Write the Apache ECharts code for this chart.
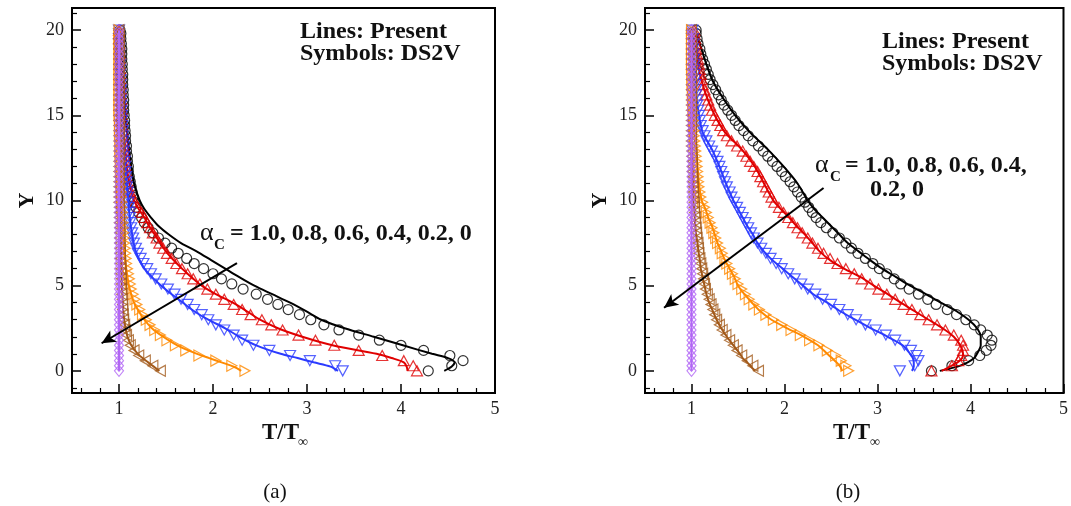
<!DOCTYPE html>
<html><head><meta charset="utf-8">
<script src="https://cdn.jsdelivr.net/npm/echarts@6/dist/echarts.min.js"></script>
<style>html,body{margin:0;padding:0;background:#fff}#c{width:1071px;height:506px}</style>
</head><body><div id="c"></div>
<script>
// ---------- DATA ----------
// Y positions of DS2V symbols (shared)
const symY = [0,0.3,0.6,0.9,1.2,1.5,1.8,2.1,2.4,2.7,3,3.3,3.6,3.9,4.2,4.5,4.8,5.1,5.4,5.7,6,6.3,6.6,6.9,7.2,7.5,7.8,8.1,8.4,8.7,9,9.3,9.6,9.9,10.2,10.5,10.8,11.1,11.4,11.7,12,12.3,12.6,12.9,13.2,13.5,13.8,14.1,14.4,14.7,15,15.3,15.6,15.9,16.2,16.5,16.8,17.1,17.4,17.7,18,18.3,18.6,18.9,19.2,19.5,19.8,20];
// Y positions of present-method lines (shared)
const lineY = [0,0.25,0.5,0.75,1,1.5,2,2.5,3,3.5,4,4.5,5,5.5,6,6.5,7,7.5,8,8.5,9,9.5,10,11,12,13,14,15,16,17,18,19,20];

const alphaLabels = ['1.0','0.8','0.6','0.4','0.2','0'];

// Panel (a): lines (T/Tinf at lineY)
const aLine10 = [4.46,4.54,4.57,4.50,4.33,4.02,3.71,3.40,3.15,2.99,2.82,2.63,2.44,2.28,2.13,1.98,1.83,1.66,1.53,1.42,1.34,1.27,1.22,1.16,1.13,1.105,1.085,1.07,1.055,1.045,1.035,1.025,1.015];
const aLine08 = [4.07,4.06,4.03,3.90,3.74,3.27,2.95,2.69,2.50,2.36,2.21,2.03,1.88,1.77,1.67,1.58,1.50,1.44,1.38,1.32,1.27,1.21,1.16,1.11,1.08,1.065,1.05,1.04,1.03,1.025,1.02,1.01,1.005];
const aLine06 = [3.33,3.25,3.07,2.90,2.72,2.46,2.28,2.13,1.95,1.80,1.68,1.56,1.45,1.35,1.27,1.22,1.18,1.155,1.14,1.125,1.115,1.105,1.10,1.08,1.065,1.05,1.04,1.03,1.025,1.02,1.015,1.01,1.005];
const aLine04 = [2.30,2.22,2.09,1.96,1.83,1.62,1.47,1.35,1.27,1.21,1.16,1.13,1.105,1.09,1.077,1.065,1.055,1.048,1.042,1.037,1.033,1.03,1.027,1.022,1.018,1.015,1.012,1.01,1.008,1.006,1.004,1.002,1.0];
const aLine02 = [1.43,1.37,1.31,1.25,1.20,1.13,1.09,1.07,1.055,1.045,1.04,1.035,1.03,1.027,1.024,1.022,1.02,1.018,1.016,1.014,1.012,1.011,1.01,1.008,1.006,1.005,1.004,1.003,1.002,1.001,1.0,1.0,1.0];
const aLine00 = [1,1,1,1,1,1,1,1,1,1,1,1,1,1,1,1,1,1,1,1,1,1,1,1,1,1,1,1,1,1,1,1,1];

// Panel (a): DS2V symbols (T/Tinf at symY)
const aSym10 = [4.29,4.54,4.66,4.52,4.24,4.00,3.77,3.55,3.34,3.18, 3.04,2.92,2.80,2.69,2.58,2.46,2.32,2.20,2.09,2.00, 1.90,1.80,1.72,1.63,1.56,1.49,1.42,1.36,1.31,1.27, 1.24,1.21,1.18,1.16,1.15,1.14,1.13,1.12,1.11,1.10, 1.10,1.09,1.09,1.08,1.08,1.07,1.07,1.065,1.06,1.06, 1.055,1.05,1.05,1.05,1.045,1.045,1.04,1.04,1.04,1.035, 1.035,1.03,1.03,1.03,1.025,1.02,1.02,1.01];
const aSym08 = [4.17,4.13,4.03,3.80,3.55,3.29,3.09,2.91,2.74,2.62, 2.52,2.40,2.31,2.22,2.12,2.03,1.94,1.86,1.79,1.73, 1.67,1.61,1.56,1.51,1.47,1.43,1.40,1.36,1.33,1.30, 1.27,1.24,1.20,1.17,1.14,1.12,1.10,1.09,1.08,1.075, 1.07,1.065,1.06,1.055,1.05,1.045,1.04,1.04,1.035,1.035, 1.03,1.03,1.025,1.025,1.02,1.02,1.02,1.015,1.015,1.015, 1.01,1.01,1.01,1.005,1.005,1.0,1.0,1.0];
const aSym06 = [3.38,3.30,3.03,2.82,2.60,2.43,2.31,2.22,2.12,2.03, 1.95,1.88,1.80,1.73,1.66,1.59,1.52,1.45,1.39,1.34, 1.30,1.26,1.23,1.20,1.18,1.16,1.15,1.14,1.13,1.12, 1.115,1.11,1.105,1.10,1.095,1.09,1.085,1.08,1.075,1.07, 1.065,1.06,1.055,1.05,1.05,1.045,1.04,1.04,1.035,1.03, 1.03,1.025,1.025,1.02,1.02,1.02,1.015,1.015,1.01,1.01, 1.01,1.005,1.005,1.005,1.0,1.0,1.0,1.0];
const aSym04 = [2.34,2.20,2.03,1.85,1.71,1.60,1.51,1.44,1.38,1.33, 1.29,1.25,1.22,1.19,1.17,1.15,1.13,1.12,1.11,1.10, 1.09,1.08,1.075,1.07,1.065,1.06,1.055,1.05,1.045,1.04, 1.04,1.035,1.03,1.03,1.025,1.025,1.02,1.02,1.02,1.015, 1.015,1.015,1.01,1.01,1.01,1.01,1.005,1.005,1.005,1.005, 1,1,1,1,1,1,1,1,1,1, 1,1,1,1,1,1,1,1];
const aSym02 = [1.44,1.36,1.28,1.21,1.16,1.12,1.10,1.08,1.065,1.06, 1.05,1.045,1.04,1.04,1.035,1.03,1.03,1.025,1.025,1.02, 1.02,1.02,1.015,1.015,1.015,1.01,1.01,1.01,1.01,1.005, 1.005,1.005,1.005,1,1,1,1,1,1,1, 1,1,1,1,1,1,1,1,1,1, 1,1,1,1,1,1,1,1,1,1, 1,1,1,1,1,1,1,1];
const aSym00 = [1,1,1,1,1,1,1,1,1,1, 1,1,1,1,1,1,1,1,1,1, 1,1,1,1,1,1,1,1,1,1, 1,1,1,1,1,1,1,1,1,1, 1,1,1,1,1,1,1,1,1,1, 1,1,1,1,1,1,1,1,1,1, 1,1,1,1,1,1,1,1];

// Panel (b): lines
const bLine10 = [3.67,3.86,3.97,4.04,4.07,4.11,4.11,4.07,3.98,3.85,3.68,3.52,3.35,3.20,3.05,2.92,2.80,2.68,2.59,2.50,2.41,2.32,2.25,2.14,1.99,1.82,1.63,1.47,1.34,1.23,1.16,1.10,1.04];
const bLine08 = [3.69,3.78,3.86,3.91,3.92,3.89,3.82,3.70,3.55,3.40,3.25,3.11,2.96,2.82,2.64,2.49,2.38,2.30,2.22,2.13,2.05,1.96,1.88,1.78,1.68,1.54,1.36,1.25,1.17,1.11,1.07,1.05,1.03];
const bLine06 = [3.37,3.39,3.39,3.38,3.35,3.27,3.11,2.93,2.76,2.60,2.46,2.31,2.20,2.09,1.98,1.87,1.78,1.71,1.66,1.60,1.55,1.50,1.45,1.37,1.30,1.22,1.12,1.08,1.055,1.04,1.03,1.02,1.015];
const bLine04 = [2.62,2.60,2.56,2.51,2.46,2.36,2.21,2.03,1.86,1.74,1.65,1.57,1.50,1.46,1.41,1.36,1.32,1.28,1.25,1.22,1.18,1.15,1.11,1.08,1.065,1.05,1.03,1.02,1.015,1.01,1.005,1.0,1.0];
const bLine02 = [1.68,1.64,1.60,1.55,1.52,1.45,1.38,1.32,1.27,1.23,1.19,1.16,1.14,1.12,1.10,1.09,1.075,1.065,1.05,1.04,1.035,1.03,1.02,1.015,1.01,1.005,1.0,1.0,1.0,1.0,1.0,1.0,1.0];
const bLine00 = [1,1,1,1,1,1,1,1,1,1,1,1,1,1,1,1,1,1,1,1,1,1,1,1,1,1,1,1,1,1,1,1,1];

// Panel (b): DS2V symbols
const bSym10 = [3.58,3.80,3.98,4.10,4.17,4.22,4.23,4.18,4.11,4.04, 3.95,3.85,3.75,3.63,3.54,3.44,3.34,3.25,3.18,3.10, 3.02,2.95,2.87,2.79,2.72,2.66,2.59,2.52,2.45,2.39, 2.34,2.30,2.26,2.22,2.18,2.14,2.10,2.06,2.01,1.97, 1.92,1.87,1.82,1.77,1.72,1.66,1.61,1.56,1.51,1.47, 1.43,1.39,1.35,1.32,1.29,1.26,1.23,1.20,1.18,1.16, 1.14,1.12,1.10,1.09,1.07,1.06,1.05,1.05];
const bSym08 = [3.58,3.80,3.87,3.90,3.92,3.92,3.90,3.82,3.73,3.64, 3.55,3.46,3.37,3.28,3.19,3.10,3.01,2.92,2.83,2.75, 2.66,2.57,2.49,2.42,2.36,2.30,2.25,2.19,2.14,2.09, 2.04,1.99,1.94,1.89,1.86,1.83,1.80,1.77,1.74,1.71, 1.67,1.63,1.59,1.55,1.49,1.43,1.38,1.34,1.31,1.28, 1.25,1.22,1.20,1.18,1.16,1.14,1.12,1.11,1.10,1.09, 1.08,1.07,1.06,1.05,1.05,1.04,1.03,1.03];
const bSym06 = [3.24,3.40,3.44,3.42,3.36,3.29,3.19,3.09,2.98,2.87, 2.77,2.68,2.59,2.50,2.41,2.33,2.25,2.18,2.11,2.04, 1.97,1.91,1.85,1.80,1.75,1.71,1.67,1.64,1.61,1.58, 1.55,1.52,1.49,1.46,1.43,1.41,1.38,1.36,1.34,1.32, 1.30,1.28,1.25,1.22,1.19,1.16,1.14,1.12,1.10,1.09, 1.08,1.07,1.06,1.06,1.05,1.05,1.04,1.04,1.035,1.03, 1.03,1.025,1.02,1.02,1.02,1.015,1.01,1.01];
const bSym04 = [2.69,2.66,2.61,2.55,2.46,2.37,2.27,2.17,2.07,1.97, 1.88,1.80,1.73,1.67,1.62,1.58,1.54,1.50,1.47,1.44, 1.41,1.38,1.36,1.33,1.31,1.28,1.26,1.24,1.22,1.20, 1.18,1.16,1.14,1.12,1.10,1.09,1.08,1.075,1.07,1.065, 1.06,1.055,1.05,1.045,1.04,1.035,1.03,1.03,1.025,1.02, 1.02,1.015,1.015,1.01,1.01,1.01,1.005,1.005,1.005,1.0, 1,1,1,1,1,1,1,1];
const bSym02 = [1.72,1.66,1.60,1.54,1.49,1.45,1.41,1.37,1.33,1.30, 1.27,1.25,1.23,1.21,1.19,1.17,1.15,1.14,1.13,1.12, 1.11,1.10,1.09,1.08,1.075,1.07,1.06,1.055,1.05,1.045, 1.04,1.035,1.03,1.03,1.025,1.02,1.02,1.015,1.015,1.01, 1.01,1.01,1.005,1.005,1,1,1,1,1,1, 1,1,1,1,1,1,1,1,1,1, 1,1,1,1,1,1,1,1];
const bSym00 = [1,1,1,1,1,1,1,1,1,1, 1,1,1,1,1,1,1,1,1,1, 1,1,1,1,1,1,1,1,1,1, 1,1,1,1,1,1,1,1,1,1, 1,1,1,1,1,1,1,1,1,1, 1,1,1,1,1,1,1,1,1,1, 1,1,1,1,1,1,1,1];

// Arrows (data coordinates: start -> head)
const arrowA = [[2.255, 6.32], [0.815, 1.62]];
const arrowB = [[2.42, 10.73], [0.705, 3.70]];

// ---------- STYLE ----------
const FONT = '"Liberation Serif", "Times New Roman", serif';
const COLORS = ['#000000', '#e00000', '#2b3bff', '#ff8a00', '#a35a1a', '#b266f5'];
const SHAPES = ['circle', 'triangle', 'path://M0,0L10,0L5,9Z', 'path://M0,0L9,5L0,10Z', 'path://M9,0L0,5L9,10Z', 'diamond'];
const SIZES = [10, [11, 10], [11, 10], [10, 11], [10, 11], [9, 11]];

const panels = [
  {lines: [aLine10, aLine08, aLine06, aLine04, aLine02, aLine00], syms: [aSym10, aSym08, aSym06, aSym04, aSym02, aSym00], arrow: arrowA},
  {lines: [bLine10, bLine08, bLine06, bLine04, bLine02, bLine00], syms: [bSym10, bSym08, bSym06, bSym04, bSym02, bSym00], arrow: arrowB}
];

function pairs(xs, ys) { return xs.map((x, i) => [x, ys[i]]); }

const series = [];
panels.forEach((p, pi) => {
  for (let k = 0; k < 6; k++) {
    const s = {
      type: 'line', name: 'Present α=' + alphaLabels[k], xAxisIndex: pi, yAxisIndex: pi,
      data: pairs(p.lines[k], lineY), showSymbol: false, smooth: 0.3,
      lineStyle: {color: COLORS[k], width: 2}, itemStyle: {color: COLORS[k]},
      z: 2 + k * 2, silent: true
    };
    if (k === 0) {
      s.markLine = {
        silent: true, symbol: ['none', 'arrow'], symbolSize: [10, 14],
        label: {show: false},
        lineStyle: {color: '#000', width: 2, type: 'solid'},
        data: [[{coord: p.arrow[0]}, {coord: p.arrow[1]}]],
        z: 30
      };
    }
    series.push(s);
    series.push({
      type: 'scatter', name: 'DS2V α=' + alphaLabels[k], xAxisIndex: pi, yAxisIndex: pi,
      data: pairs(p.syms[k], symY), symbol: SHAPES[k], symbolSize: SIZES[k],
      itemStyle: {color: 'rgba(0,0,0,0)', borderColor: COLORS[k], borderWidth: 1.2},
      z: 3 + k * 2, silent: true
    });
  }
});

function xAxisCfg(i) {
  return {
    gridIndex: i, type: 'value', min: 0.5, max: 5, splitNumber: 5,
    axisLine: {show: true, onZero: false, lineStyle: {color: '#000', width: 2}},
    axisTick: {show: true, inside: true, length: 9, lineStyle: {color: '#000', width: 1.5}},
    minorTick: {show: true, splitNumber: 5, length: 5, lineStyle: {color: '#000', width: 1.2}},
    splitLine: {show: false}, minorSplitLine: {show: false},
    axisLabel: {margin: 7, fontFamily: FONT, fontSize: 18, color: '#222',
      formatter: v => Math.abs(v - Math.round(v)) < 1e-6 ? String(Math.round(v)) : ''}
  };
}
function yAxisCfg(i) {
  return {
    gridIndex: i, type: 'value', min: -1.3, max: 21.3, splitNumber: 5,
    name: 'Y', nameLocation: 'middle', nameGap: 34, nameRotate: 90,
    nameTextStyle: {fontFamily: FONT, fontWeight: 'bold', fontSize: 22, color: '#111'},
    axisLine: {show: true, onZero: false, lineStyle: {color: '#000', width: 2}},
    axisTick: {show: true, inside: true, length: 9, lineStyle: {color: '#000', width: 1.5}},
    minorTick: {show: true, splitNumber: 5, length: 5, lineStyle: {color: '#000', width: 1.2}},
    splitLine: {show: false}, minorSplitLine: {show: false},
    axisLabel: {margin: 8, fontFamily: FONT, fontSize: 18, color: '#222',
      formatter: v => Math.abs(v / 5 - Math.round(v / 5)) < 1e-6 ? String(Math.round(v)) : ''}
  };
}

function txt(x, y, text, font, align) {
  return {type: 'text', x: x, y: y, silent: true, z: 50,
    style: {text: text, font: font, fill: '#111', align: align || 'left', verticalAlign: 'middle'}};
}
const B24 = 'bold 24px ' + FONT;
const graphic = [
  txt(300, 32, 'Lines: Present', B24), txt(300, 54, 'Symbols: DS2V', B24),
  txt(882, 42, 'Lines: Present', B24), txt(882, 64, 'Symbols: DS2V', B24),
  txt(200, 233, 'α', '26px ' + FONT), txt(214, 245, 'C', 'bold 15px ' + FONT),
  txt(230, 233.6, '= 1.0, 0.8, 0.6, 0.4, 0.2, 0', B24),
  txt(815, 165.5, 'α', '26px ' + FONT), txt(830, 177, 'C', 'bold 15px ' + FONT),
  txt(845, 166, '= 1.0, 0.8, 0.6, 0.4,', B24), txt(870, 190, '0.2, 0', B24),
  txt(262, 433, 'T/T', 'bold 23px ' + FONT), txt(298, 442, '∞', '14px ' + FONT),
  txt(833, 433, 'T/T', 'bold 23px ' + FONT), txt(870, 442, '∞', '14px ' + FONT),
  txt(275, 492, '(a)', '21px ' + FONT, 'center'), txt(848, 492, '(b)', '21px ' + FONT, 'center')
];

const chart = echarts.init(document.getElementById('c'), null, {renderer: 'canvas'});
chart.setOption({
  backgroundColor: '#fff',
  animation: false,
  grid: [
    {left: 72, top: 8, width: 423, height: 385, show: true, borderColor: '#000', borderWidth: 2, backgroundColor: 'transparent'},
    {left: 645, top: 8, width: 423, height: 385, show: true, borderColor: '#000', borderWidth: 2, backgroundColor: 'transparent'}
  ],
  xAxis: [xAxisCfg(0), xAxisCfg(1)],
  yAxis: [yAxisCfg(0), yAxisCfg(1)],
  series: series,
  graphic: graphic
});
</script></body></html>
